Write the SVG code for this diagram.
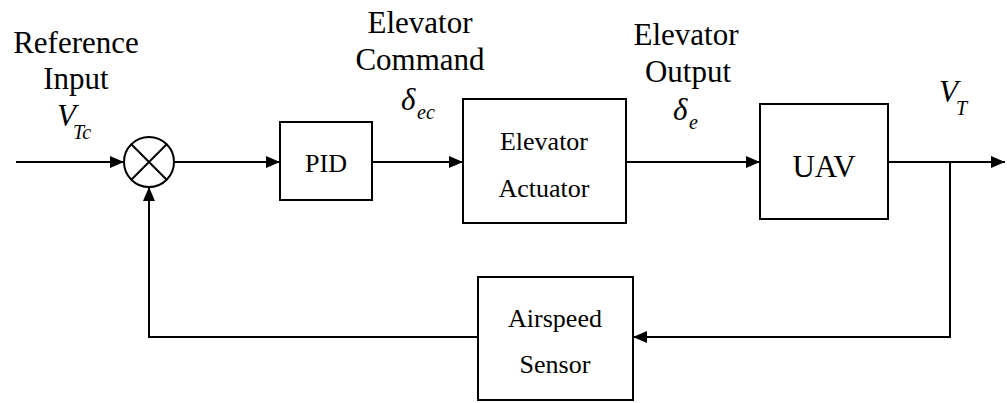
<svg xmlns="http://www.w3.org/2000/svg" width="1007" height="403" viewBox="0 0 1007 403">
<style>
text{font-family:"Liberation Serif",serif;fill:#000}
.lbl{font-size:31px;text-anchor:middle}
.box{font-size:26px;text-anchor:middle}
.sym{font-size:31px;font-style:italic}
.sub{font-size:20px;font-style:italic}
.shape{fill:#fff;stroke:#000;stroke-width:2}
.c{fill:none;stroke:#000;stroke-width:2}
</style>
<defs>
<marker id="ah" markerWidth="14" markerHeight="12" refX="14" refY="6" orient="auto" markerUnits="userSpaceOnUse">
<path d="M0,0 L14,6 L0,12 Z" fill="#000"/>
</marker>
</defs>
<g id="connectors">
<path class="c" d="M16,162 H124" marker-end="url(#ah)"/>
<path class="c" d="M174,162 H280" marker-end="url(#ah)"/>
<path class="c" d="M372,162 H463" marker-end="url(#ah)"/>
<path class="c" d="M626,162 H760" marker-end="url(#ah)"/>
<path class="c" d="M888,162 H1005" marker-end="url(#ah)"/>
<path class="c" d="M950,162 V337 H633" marker-end="url(#ah)"/>
<path class="c" d="M478,337 H149 V187" marker-end="url(#ah)"/>
</g>
<g id="sum">
<circle class="shape" cx="149" cy="162" r="25"/>
<path class="c" d="M131.3,144.3 L166.7,179.7 M166.7,144.3 L131.3,179.7"/>
</g>
<g id="pid">
<rect class="shape" x="280" y="122" width="92" height="78"/>
<text class="box" x="326" y="172">PID</text>
</g>
<g id="actuator">
<rect class="shape" x="463" y="99" width="163" height="124"/>
<text class="box" x="544" y="150">Elevator</text>
<text class="box" x="544" y="197">Actuator</text>
</g>
<g id="uav">
<rect class="shape" x="760" y="104" width="128" height="115"/>
<text class="lbl" x="824" y="177">UAV</text>
</g>
<g id="sensor">
<rect class="shape" x="478" y="277" width="155" height="123"/>
<text class="box" x="555" y="327">Airspeed</text>
<text class="box" x="555" y="373">Sensor</text>
</g>
<g id="labels">
<text class="lbl" x="76" y="53">Reference</text>
<text class="lbl" x="76" y="89">Input</text>
<text class="sym" x="57" y="126">V</text>
<text class="sub" x="73" y="139">Tc</text>
<text class="lbl" x="420" y="33">Elevator</text>
<text class="lbl" x="420" y="70">Command</text>
<text class="sym" x="401" y="110">&#948;</text>
<text class="sub" x="417" y="119">ec</text>
<text class="lbl" x="686" y="45">Elevator</text>
<text class="lbl" x="688" y="82">Output</text>
<text class="sym" x="673" y="120">&#948;</text>
<text class="sub" x="689" y="129">e</text>
<text class="sym" x="939" y="102">V</text>
<text class="sub" x="956" y="115">T</text>
</g>
</svg>
